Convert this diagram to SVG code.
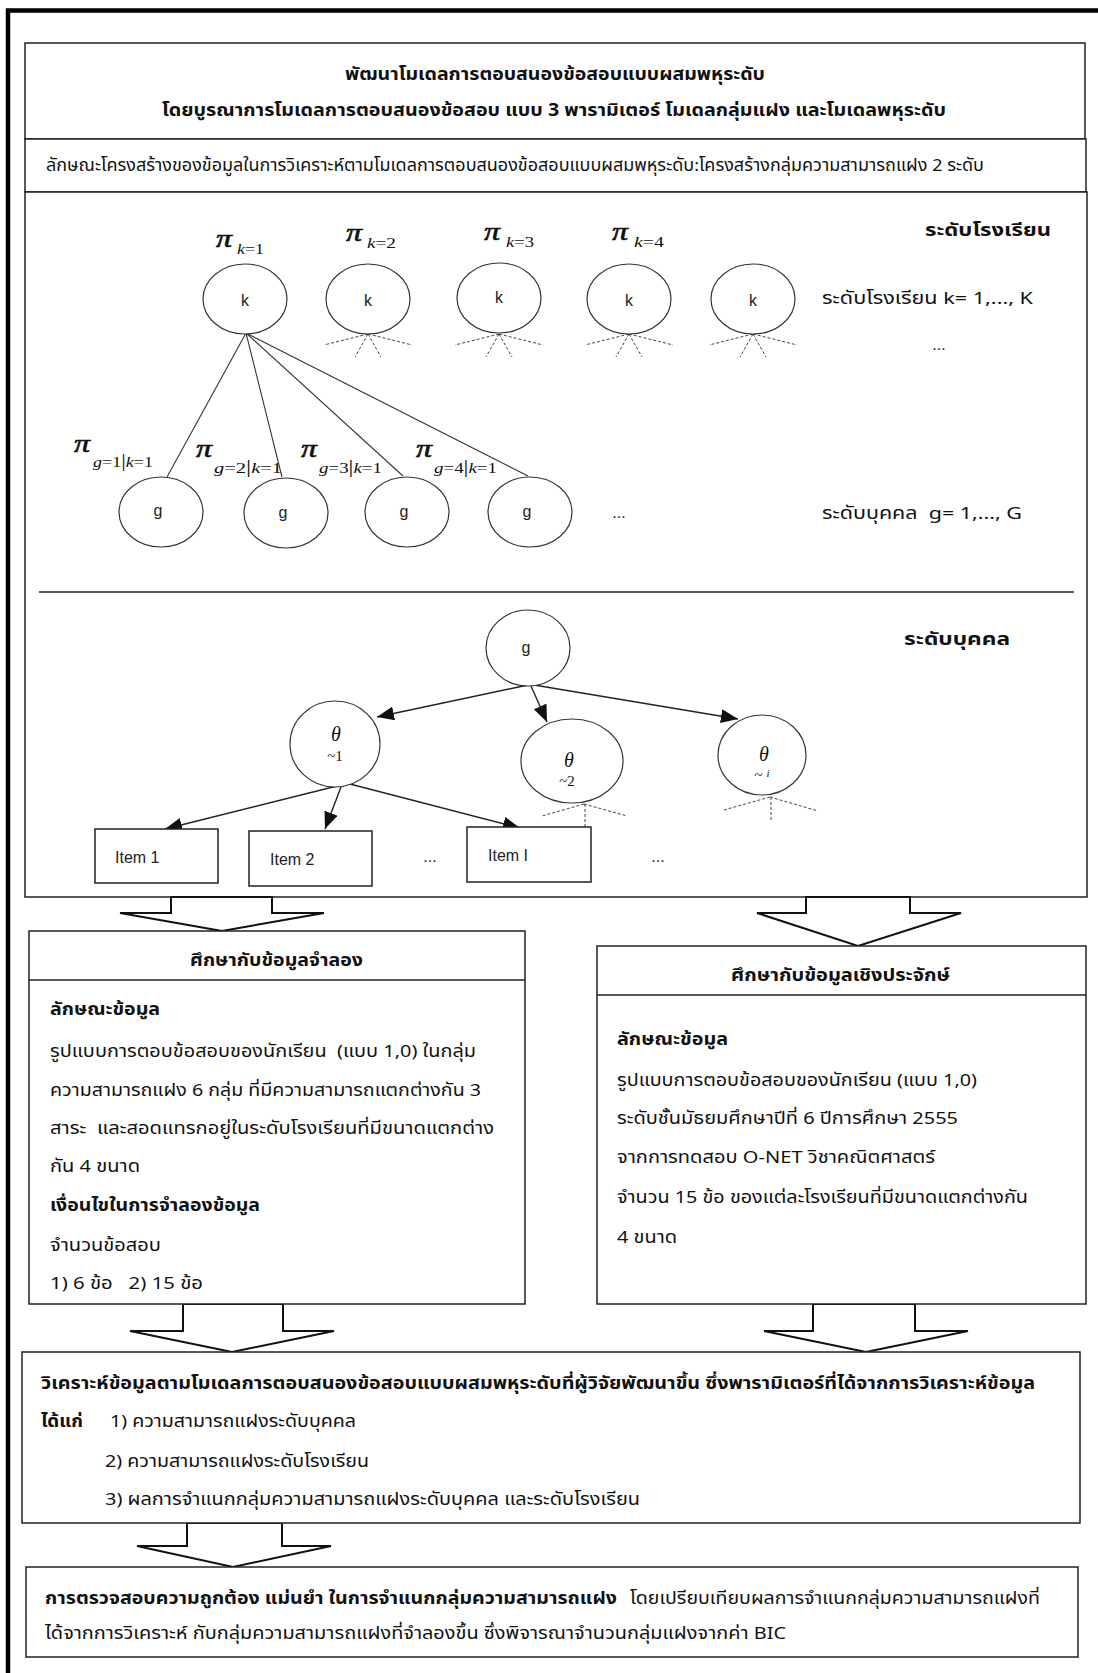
<svg xmlns="http://www.w3.org/2000/svg" width="1098" height="1673" viewBox="0 0 1098 1673">
<defs>
<style>
.box{fill:#fff;stroke:#222;stroke-width:1.5}
.node{fill:#fff;stroke:#333;stroke-width:1.2}
.th{font-family:"Noto Sans Thai","Noto Sans Thai UI","Noto Sans","DejaVu Sans",sans-serif;font-size:17px;fill:#111;white-space:pre}
.b{font-weight:bold}
.lat{font-family:"Liberation Sans",Arial,sans-serif;font-size:16px;fill:#222}
.m{font-family:"Liberation Serif","Times New Roman",serif;font-style:italic;fill:#111}
.pi{font-family:"Liberation Serif","Times New Roman",serif;font-style:italic;font-size:25px;fill:#111;stroke:#111;stroke-width:0.6}
.up{font-style:normal}
.dash{stroke:#444;stroke-width:1;stroke-dasharray:3 2;fill:none}
.edge{stroke:#333;stroke-width:1.1;fill:none}
.arr{stroke:#222;stroke-width:1.4;fill:none;marker-end:url(#ah)}
.blk{fill:#fff;stroke:#111;stroke-width:2;stroke-linejoin:miter}
</style>
<marker id="ah" markerUnits="userSpaceOnUse" markerWidth="18" markerHeight="14" refX="17" refY="7" orient="auto">
<path d="M0,0 L17,7 L0,14 z" fill="#111"/>
</marker>
</defs>
<rect width="1098" height="1673" fill="#fff"/>
<path d="M8 1673 V10.5 H1098" fill="none" stroke="#000" stroke-width="4.5"/>

<g id="title">
<rect class="box" x="25" y="43" width="1060" height="96"/>
<text class="th b" x="345" y="80" textLength="420" lengthAdjust="spacingAndGlyphs">พัฒนาโมเดลการตอบสนองข้อสอบแบบผสมพหุระดับ</text>
<text class="th b" x="162" y="116" textLength="784" lengthAdjust="spacingAndGlyphs">โดยบูรณาการโมเดลการตอบสนองข้อสอบ แบบ 3 พารามิเตอร์ โมเดลกลุ่มแฝง และโมเดลพหุระดับ</text>
</g>
<g id="subtitle">
<rect class="box" x="25" y="139" width="1061" height="53"/>
<text class="th" x="46" y="171" textLength="938" lengthAdjust="spacingAndGlyphs">ลักษณะโครงสร้างของข้อมูลในการวิเคราะห์ตามโมเดลการตอบสนองข้อสอบแบบผสมพหุระดับ:โครงสร้างกลุ่มความสามารถแฝง 2 ระดับ</text>
</g>

<g id="panel">
<rect class="box" x="25" y="192" width="1062" height="705"/>
<line x1="39" y1="592" x2="1074" y2="592" stroke="#222" stroke-width="1.3"/>
<text class="th b" x="925" y="236" textLength="126" lengthAdjust="spacingAndGlyphs">ระดับโรงเรียน</text>
<text class="th" x="822" y="304" textLength="211" lengthAdjust="spacingAndGlyphs">ระดับโรงเรียน k= 1,..., K</text>
<text class="lat" x="939" y="350" font-size="14" text-anchor="middle">...</text>
<text class="th" x="822" y="519" textLength="200" lengthAdjust="spacingAndGlyphs" xml:space="preserve">ระดับบุคคล  g= 1,..., G</text>
<text class="lat" x="619" y="518" font-size="14" text-anchor="middle">...</text>
<text class="th b" x="904" y="645" textLength="106" lengthAdjust="spacingAndGlyphs">ระดับบุคคล</text>
<text class="lat" x="430" y="862" font-size="14" text-anchor="middle">...</text>
<text class="lat" x="658" y="862" font-size="14" text-anchor="middle">...</text>
</g>

<g id="pi-labels">
<text class="pi" x="216" y="247" textLength="16" lengthAdjust="spacingAndGlyphs">π</text><text class="m" x="237" y="254" font-size="15" textLength="27" lengthAdjust="spacingAndGlyphs">k<tspan class="up">=1</tspan></text>
<text class="pi" x="346" y="241" textLength="16" lengthAdjust="spacingAndGlyphs">π</text><text class="m" x="367" y="248" font-size="15" textLength="29" lengthAdjust="spacingAndGlyphs">k<tspan class="up">=2</tspan></text>
<text class="pi" x="484" y="240" textLength="16" lengthAdjust="spacingAndGlyphs">π</text><text class="m" x="506" y="247" font-size="15" textLength="28" lengthAdjust="spacingAndGlyphs">k<tspan class="up">=3</tspan></text>
<text class="pi" x="612" y="240" textLength="16" lengthAdjust="spacingAndGlyphs">π</text><text class="m" x="634" y="247" font-size="15" textLength="30" lengthAdjust="spacingAndGlyphs">k<tspan class="up">=4</tspan></text>
<text class="pi" x="74" y="452" textLength="16" lengthAdjust="spacingAndGlyphs">π</text><text class="m" x="93" y="467" font-size="15" textLength="60" lengthAdjust="spacingAndGlyphs">g<tspan class="up">=1</tspan><tspan class="up" font-size="19">|</tspan>k<tspan class="up">=1</tspan></text>
<text class="pi" x="196" y="457" textLength="16" lengthAdjust="spacingAndGlyphs">π</text><text class="m" x="214" y="473" font-size="15" textLength="68" lengthAdjust="spacingAndGlyphs">g<tspan class="up">=2</tspan><tspan class="up" font-size="19">|</tspan>k<tspan class="up">=1</tspan></text>
<text class="pi" x="301" y="457" textLength="16" lengthAdjust="spacingAndGlyphs">π</text><text class="m" x="319" y="473" font-size="15" textLength="63" lengthAdjust="spacingAndGlyphs">g<tspan class="up">=3</tspan><tspan class="up" font-size="19">|</tspan>k<tspan class="up">=1</tspan></text>
<text class="pi" x="416" y="457" textLength="16" lengthAdjust="spacingAndGlyphs">π</text><text class="m" x="434" y="473" font-size="15" textLength="63" lengthAdjust="spacingAndGlyphs">g<tspan class="up">=4</tspan><tspan class="up" font-size="19">|</tspan>k<tspan class="up">=1</tspan></text>
</g>

<g id="connectors">
<line class="edge" x1="246" y1="333" x2="167" y2="477"/>
<line class="edge" x1="246" y1="333" x2="282" y2="477"/>
<line class="edge" x1="246" y1="333" x2="403" y2="476"/>
<line class="edge" x1="246" y1="333" x2="528" y2="476"/>
<path class="dash" d="M368 334 L324 345 M368 334 L412 345 M368 334 L355 357 M368 334 L381 357"/>
<path class="dash" d="M499 334 L455 345 M499 334 L543 345 M499 334 L486 357 M499 334 L512 357"/>
<path class="dash" d="M629 334 L585 345 M629 334 L673 345 M629 334 L616 357 M629 334 L642 357"/>
<path class="dash" d="M753 334 L709 345 M753 334 L797 345 M753 334 L740 357 M753 334 L766 357"/>
<line class="arr" x1="528" y1="685" x2="377" y2="717"/>
<line class="arr" x1="531" y1="686" x2="547" y2="722"/>
<line class="arr" x1="534" y1="685" x2="738" y2="719"/>
<line class="arr" x1="337" y1="786" x2="165" y2="829"/>
<line class="arr" x1="341" y1="787" x2="325" y2="829"/>
<line class="arr" x1="350" y1="784" x2="520" y2="828"/>
<path class="dash" d="M584 804 L542 816 M584 804 L627 816 M585 804 L585 828"/>
<path class="dash" d="M770 797 L724 810 M770 797 L818 811 M771 797 L771 822"/>
<polygon class="blk" points="171,897 272,897 272,913 324,913 222,931 120,913 171,913"/>
<polygon class="blk" points="806,897 910,897 910,913 961,913 858,946 757,913 806,913"/>
<polygon class="blk" points="183,1304 283,1304 283,1331 334,1331 232,1352 130,1331 183,1331"/>
<polygon class="blk" points="813,1304 915,1304 915,1331 968,1331 866,1352 764,1331 813,1331"/>
<polygon class="blk" points="187,1523 282,1523 282,1546 331,1546 233,1567 137,1546 187,1546"/>
</g>

<g id="k1"><ellipse class="node" cx="245" cy="299" rx="42" ry="35"/><text class="lat" x="245" y="306" text-anchor="middle">k</text></g>
<g id="k2"><ellipse class="node" cx="368" cy="299" rx="42" ry="35"/><text class="lat" x="368" y="306" text-anchor="middle">k</text></g>
<g id="k3"><ellipse class="node" cx="499" cy="298" rx="42" ry="35"/><text class="lat" x="499" y="303" text-anchor="middle">k</text></g>
<g id="k4"><ellipse class="node" cx="629" cy="299" rx="42" ry="35"/><text class="lat" x="629" y="306" text-anchor="middle">k</text></g>
<g id="k5"><ellipse class="node" cx="753" cy="299" rx="42" ry="35"/><text class="lat" x="753" y="306" text-anchor="middle">k</text></g>

<g id="g1"><ellipse class="node" cx="161" cy="512" rx="42" ry="35"/><text class="lat" x="158" y="516" text-anchor="middle">g</text></g>
<g id="g2"><ellipse class="node" cx="286" cy="513" rx="42" ry="35"/><text class="lat" x="283" y="518" text-anchor="middle">g</text></g>
<g id="g3"><ellipse class="node" cx="407" cy="512" rx="42" ry="35"/><text class="lat" x="404" y="517" text-anchor="middle">g</text></g>
<g id="g4"><ellipse class="node" cx="530" cy="512" rx="42" ry="35"/><text class="lat" x="527" y="517" text-anchor="middle">g</text></g>

<g id="g-person"><ellipse class="node" cx="528" cy="648" rx="42" ry="38"/><text class="lat" x="526" y="653" text-anchor="middle">g</text></g>
<g id="theta1"><ellipse class="node" cx="335" cy="744" rx="45" ry="43"/><text class="m" x="336" y="741" font-size="20" text-anchor="middle">θ</text><text class="m up" x="335" y="761" font-size="15" text-anchor="middle">~1</text></g>
<g id="theta2"><ellipse class="node" cx="572" cy="761" rx="51" ry="42"/><text class="m" x="569" y="767" font-size="20" text-anchor="middle">θ</text><text class="m up" x="567" y="786" font-size="15" text-anchor="middle">~2</text></g>
<g id="thetai"><ellipse class="node" cx="762" cy="755" rx="44" ry="40"/><text class="m" x="764" y="761" font-size="20" text-anchor="middle">θ</text><text class="m up" x="762" y="780" font-size="15" text-anchor="middle">~ <tspan class="m" font-size="11" dy="-3">i</tspan></text></g>

<g id="item1"><rect class="box" x="95" y="829" width="123" height="54"/><text class="lat" x="115" y="863">Item 1</text></g>
<g id="item2"><rect class="box" x="249" y="831" width="123" height="55"/><text class="lat" x="270" y="865">Item 2</text></g>
<g id="itemI"><rect class="box" x="467" y="827" width="124" height="55"/><text class="lat" x="488" y="861">Item I</text></g>

<g id="simulated">
<rect class="box" x="29" y="931" width="496" height="373"/>
<line x1="29" y1="980" x2="525" y2="980" stroke="#222" stroke-width="1.5"/>
<text class="th b" x="190" y="966" textLength="173" lengthAdjust="spacingAndGlyphs">ศึกษากับข้อมูลจำลอง</text>
<text class="th b" x="50" y="1015" textLength="110" lengthAdjust="spacingAndGlyphs">ลักษณะข้อมูล</text>
<text class="th" x="50" y="1057" textLength="426" lengthAdjust="spacingAndGlyphs" xml:space="preserve">รูปแบบการตอบข้อสอบของนักเรียน  (แบบ 1,0) ในกลุ่ม</text>
<text class="th" x="50" y="1096" textLength="431" lengthAdjust="spacingAndGlyphs">ความสามารถแฝง 6 กลุ่ม ที่มีความสามารถแตกต่างกัน 3</text>
<text class="th" x="50" y="1134" textLength="444" lengthAdjust="spacingAndGlyphs" xml:space="preserve">สาระ  และสอดแทรกอยู่ในระดับโรงเรียนที่มีขนาดแตกต่าง</text>
<text class="th" x="50" y="1172" textLength="90" lengthAdjust="spacingAndGlyphs">กัน 4 ขนาด</text>
<text class="th b" x="50" y="1211" textLength="210" lengthAdjust="spacingAndGlyphs">เงื่อนไขในการจำลองข้อมูล</text>
<text class="th" x="50" y="1251" textLength="111" lengthAdjust="spacingAndGlyphs">จำนวนข้อสอบ</text>
<text class="th" x="50" y="1289" textLength="153" lengthAdjust="spacingAndGlyphs" xml:space="preserve">1) 6 ข้อ   2) 15 ข้อ</text>
</g>

<g id="empirical">
<rect class="box" x="597" y="946" width="489" height="358"/>
<line x1="597" y1="995" x2="1086" y2="995" stroke="#222" stroke-width="1.5"/>
<text class="th b" x="731" y="981" textLength="219" lengthAdjust="spacingAndGlyphs">ศึกษากับข้อมูลเชิงประจักษ์</text>
<text class="th b" x="617" y="1045" textLength="111" lengthAdjust="spacingAndGlyphs">ลักษณะข้อมูล</text>
<text class="th" x="617" y="1086" textLength="360" lengthAdjust="spacingAndGlyphs">รูปแบบการตอบข้อสอบของนักเรียน (แบบ 1,0)</text>
<text class="th" x="617" y="1124" textLength="341" lengthAdjust="spacingAndGlyphs">ระดับชั้นมัธยมศึกษาปีที่ 6 ปีการศึกษา 2555</text>
<text class="th" x="617" y="1163" textLength="318" lengthAdjust="spacingAndGlyphs">จากการทดสอบ O-NET วิชาคณิตศาสตร์</text>
<text class="th" x="617" y="1203" textLength="411" lengthAdjust="spacingAndGlyphs">จำนวน 15 ข้อ ของแต่ละโรงเรียนที่มีขนาดแตกต่างกัน</text>
<text class="th" x="617" y="1243" textLength="60" lengthAdjust="spacingAndGlyphs">4 ขนาด</text>
</g>

<g id="analysis">
<rect class="box" x="22" y="1352" width="1058" height="171"/>
<text class="th b" x="41" y="1389" textLength="994" lengthAdjust="spacingAndGlyphs">วิเคราะห์ข้อมูลตามโมเดลการตอบสนองข้อสอบแบบผสมพหุระดับที่ผู้วิจัยพัฒนาขึ้น ซึ่งพารามิเตอร์ที่ได้จากการวิเคราะห์ข้อมูล</text>
<text class="th b" x="41" y="1427" textLength="42" lengthAdjust="spacingAndGlyphs">ได้แก่</text>
<text class="th" x="110" y="1427" textLength="246" lengthAdjust="spacingAndGlyphs">1) ความสามารถแฝงระดับบุคคล</text>
<text class="th" x="105" y="1467" textLength="264" lengthAdjust="spacingAndGlyphs">2) ความสามารถแฝงระดับโรงเรียน</text>
<text class="th" x="105" y="1505" textLength="535" lengthAdjust="spacingAndGlyphs">3) ผลการจำแนกกลุ่มความสามารถแฝงระดับบุคคล และระดับโรงเรียน</text>
</g>

<g id="validation">
<rect class="box" x="26" y="1567" width="1052" height="90"/>
<text class="th b" x="45" y="1604" textLength="572" lengthAdjust="spacingAndGlyphs">การตรวจสอบความถูกต้อง แม่นยำ ในการจำแนกกลุ่มความสามารถแฝง</text>
<text class="th" x="630" y="1604" textLength="410" lengthAdjust="spacingAndGlyphs">โดยเปรียบเทียบผลการจำแนกกลุ่มความสามารถแฝงที่</text>
<text class="th" x="45" y="1639" textLength="741" lengthAdjust="spacingAndGlyphs">ได้จากการวิเคราะห์ กับกลุ่มความสามารถแฝงที่จำลองขึ้น ซึ่งพิจารณาจำนวนกลุ่มแฝงจากค่า BIC</text>
</g>
</svg>
